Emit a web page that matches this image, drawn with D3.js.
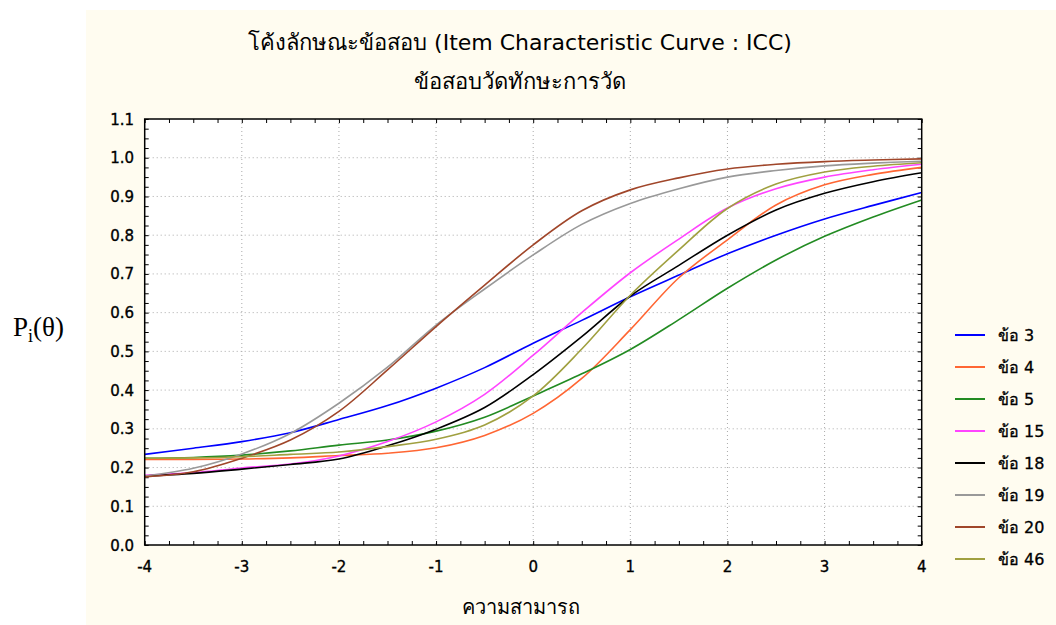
<!DOCTYPE html>
<html>
<head>
<meta charset="utf-8">
<script src="https://cdn.jsdelivr.net/npm/d3@7"></script>
<style>
	body { margin:0; background:#fff; }
	text { font-family: Tahoma, "DejaVu Sans", sans-serif; fill:#000; }
</style>
</head>
<body>
<div class="chart"></div>
<script>
// theta values and item curves
const theta = [-4, -3.5, -3, -2.5, -2, -1.5, -1, -0.5, 0, 0.5, 1, 1.5, 2, 2.5, 3, 3.5, 4];
const item3  = [0.234, 0.250, 0.267, 0.290, 0.324, 0.360, 0.405, 0.458, 0.521, 0.580, 0.641, 0.697, 0.752, 0.800, 0.842, 0.877, 0.910];
const item4  = [0.221, 0.221, 0.222, 0.225, 0.231, 0.237, 0.251, 0.283, 0.340, 0.430, 0.556, 0.690, 0.788, 0.878, 0.930, 0.957, 0.975];
const item5  = [0.224, 0.226, 0.232, 0.243, 0.258, 0.271, 0.294, 0.330, 0.385, 0.442, 0.505, 0.582, 0.663, 0.736, 0.797, 0.847, 0.891];
const item15 = [0.180, 0.187, 0.199, 0.209, 0.230, 0.267, 0.318, 0.389, 0.490, 0.600, 0.703, 0.790, 0.870, 0.920, 0.950, 0.969, 0.983];
const item18 = [0.178, 0.185, 0.196, 0.208, 0.222, 0.256, 0.299, 0.355, 0.440, 0.538, 0.643, 0.722, 0.800, 0.865, 0.908, 0.938, 0.961];
const item19 = [0.178, 0.198, 0.235, 0.288, 0.366, 0.459, 0.568, 0.661, 0.749, 0.828, 0.882, 0.920, 0.950, 0.967, 0.979, 0.986, 0.991];
const item20 = [0.176, 0.189, 0.224, 0.271, 0.345, 0.452, 0.564, 0.671, 0.775, 0.863, 0.917, 0.948, 0.971, 0.983, 0.990, 0.994, 0.997];
const item46 = [0.224, 0.225, 0.228, 0.234, 0.240, 0.254, 0.273, 0.310, 0.385, 0.506, 0.645, 0.762, 0.869, 0.932, 0.963, 0.978, 0.987];

const itemLabels = ["ข้อ 3", "ข้อ 4", "ข้อ 5", "ข้อ 15", "ข้อ 18", "ข้อ 19", "ข้อ 20", "ข้อ 46"];
const itemColors = ["#0000ff", "#ff6633", "#228b22", "#ff44ff", "#000000", "#999999", "#a0462a", "#a0a040"];
const itemValues = [item3, item4, item5, item15, item18, item19, item20, item46];

const xTicks = [-4, -3, -2, -1, 0, 1, 2, 3, 4];
const yTicks = [0, 0.1, 0.2, 0.3, 0.4, 0.5, 0.6, 0.7, 0.8, 0.9, 1.0, 1.1];

const titleText = "โค้งลักษณะข้อสอบ (Item Characteristic Curve : ICC)";
const subtitleText = "ข้อสอบวัดทักษะการวัด";
const xTitle = "ความสามารถ";

let outWidth = 1056, outHeight = 625;
let plot = {left:144.7, top:119, right:921.7, bottom:545};

const svg = d3.select('.chart').append('svg')
	.attr("width", outWidth)
	.attr("height", outHeight)
	.style("display", "block");

// cream panel
svg.append("rect")
	.attr("x", 86).attr("y", 10)
	.attr("width", outWidth - 86).attr("height", outHeight - 10)
	.attr("fill", "#fffcf0");

const x = d3.scaleLinear().domain([-4, 4]).range([plot.left, plot.right]);
const y = d3.scaleLinear().domain([0, 1.1]).range([plot.bottom, plot.top]);

svg.append("rect")
	.attr("x", plot.left).attr("y", plot.top)
	.attr("width", plot.right - plot.left).attr("height", plot.bottom - plot.top)
	.attr("fill", "#fff");

// dotted grid
svg.append("g").selectAll("line")
	.data(xTicks.slice(1, -1))
	.enter().append("line")
	.attr("x1", d=>x(d)).attr("x2", d=>x(d))
	.attr("y1", plot.top).attr("y2", plot.bottom)
	.attr("stroke", "#aaa").attr("stroke-dasharray", "1,3");
svg.append("g").selectAll("line")
	.data(yTicks.slice(1, -1))
	.enter().append("line")
	.attr("x1", plot.left).attr("x2", plot.right)
	.attr("y1", d=>y(d)).attr("y2", d=>y(d))
	.attr("stroke", "#aaa").attr("stroke-dasharray", "1,3");

// axes, ticks pointing inward on all four sides
const xAxisB = d3.axisTop(x).tickValues(d3.range(-4, 4.01, 0.25)).tickSize(4).tickFormat("");
const xAxisT = d3.axisBottom(x).tickValues(d3.range(-4, 4.01, 0.25)).tickSize(4).tickFormat("");
const yAxisL = d3.axisRight(y).tickValues(d3.range(0, 1.101, 0.025)).tickSize(4).tickFormat("");
const yAxisR = d3.axisLeft(y).tickValues(d3.range(0, 1.101, 0.025)).tickSize(4).tickFormat("");

svg.append("g").attr("transform", `translate(0,${plot.bottom})`).call(xAxisB);
svg.append("g").attr("transform", `translate(0,${plot.top})`).call(xAxisT);
svg.append("g").attr("transform", `translate(${plot.left},0)`).call(yAxisL);
svg.append("g").attr("transform", `translate(${plot.right},0)`).call(yAxisR);
svg.selectAll(".domain").remove();
svg.selectAll(".tick line").attr("stroke", "#000").attr("stroke-width", 1);

// curves
const line = d3.line()
	.x((d,i)=>x(theta[i]))
	.y(d=>y(d))
	.curve(d3.curveCatmullRom.alpha(0.5));

svg.append("g").selectAll("path")
	.data(itemValues)
	.enter().append("path")
	.attr("d", d=>line(d))
	.attr("fill", "none")
	.attr("stroke", (d,i)=>itemColors[i])
	.attr("stroke-width", 1.6);

// frame
svg.append("rect")
	.attr("x", plot.left).attr("y", plot.top)
	.attr("width", plot.right - plot.left).attr("height", plot.bottom - plot.top)
	.attr("fill", "none").attr("stroke", "#000").attr("stroke-width", 1.5);

// tick labels
svg.append("g").selectAll("text")
	.data(xTicks)
	.enter().append("text")
	.attr("x", d=>x(d))
	.attr("y", 572)
	.attr("text-anchor", "middle")
	.style("font-size", "15px")
	.style("stroke", "#000").style("stroke-width", 0.35)
	.text(d=>d);
svg.append("g").selectAll("text")
	.data(yTicks)
	.enter().append("text")
	.attr("x", 134)
	.attr("y", d=>y(d) + 5.5)
	.attr("text-anchor", "end")
	.style("font-size", "15px")
	.style("stroke", "#000").style("stroke-width", 0.35)
	.text(d=>d3.format(".1f")(d));

// titles
svg.append("text")
	.attr("x", 520).attr("y", 50)
	.attr("text-anchor", "middle")
	.style("font-size", "22px")
	.text(titleText);
svg.append("text")
	.attr("x", 520).attr("y", 89)
	.attr("text-anchor", "middle")
	.style("font-size", "22px")
	.text(subtitleText);
svg.append("text")
	.attr("x", 521).attr("y", 614)
	.attr("text-anchor", "middle")
	.style("font-size", "20px")
	.text(xTitle);

const yLab = svg.append("text")
	.attr("x", 13).attr("y", 336)
	.style("font-family", "'Liberation Serif', 'Times New Roman', serif")
	.style("font-size", "27px");
yLab.append("tspan").text("P");
yLab.append("tspan").attr("dy", 6).style("font-size", "18px").text("i");
yLab.append("tspan").attr("dy", -6).text("(θ)");

// legend
const legend = svg.append("g")
	.selectAll("g")
	.data(itemLabels)
	.enter().append("g")
	.attr("transform", (d,i)=>`translate(955, ${335 + i*32})`);
legend.append("line")
	.attr("x1", 0).attr("x2", 30)
	.attr("stroke", (d,i)=>itemColors[i])
	.attr("stroke-width", 2);
legend.append("text")
	.attr("x", 43).attr("y", 6)
	.style("font-size", "16px")
	.style("stroke", "#000").style("stroke-width", 0.3)
	.text(d=>d);
</script>
</body>
</html>
